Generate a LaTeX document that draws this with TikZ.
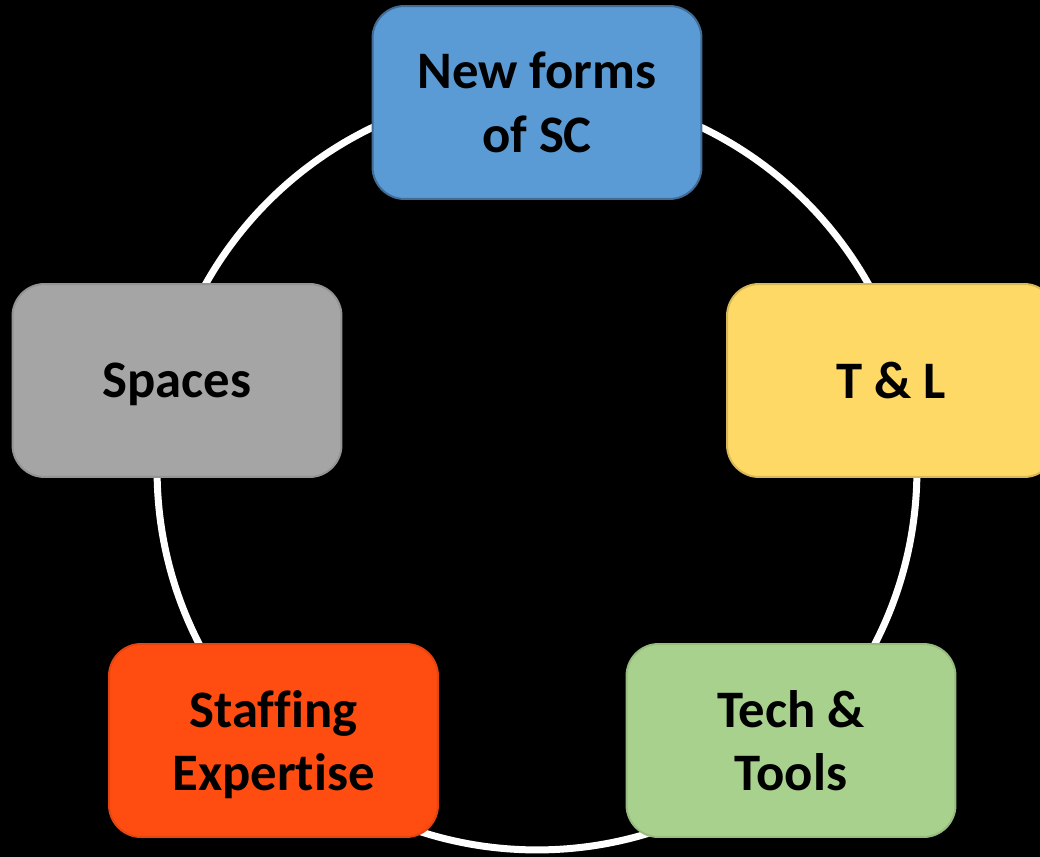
\documentclass[tikz,border=0pt]{standalone}
\usepackage{fontspec}
\setmainfont{Carlito}[Ligatures=NoCommon]
\usepackage{xcolor}
\usepackage{tikz}
\usetikzlibrary{positioning,shapes}

\definecolor{scblue}{HTML}{5B9BD5}
\definecolor{tlyellow}{HTML}{FFD966}
\definecolor{toolgreen}{HTML}{A9D18E}
\definecolor{staffred}{HTML}{FF4D12}
\definecolor{spacegray}{HTML}{A5A5A5}

\begin{document}
\begin{tikzpicture}[x=0.02cm, y=-0.02cm,
							box/.style = {rectangle, rounded corners=0.64cm, minimum width=6.58cm, minimum height=3.86cm,
								align=center, inner sep=0pt, text depth=0pt, line width=0.04cm,
								font=\fontsize{30}{36.4}\selectfont\bfseries}]
			\fill[black] (0, 0) rectangle (1040, 857);
			\clip (0, 0) rectangle (1040, 857);
			\coordinate (c) at (537, 470);
			\draw[white, line width=0.14cm] (c) circle (7.6cm);
			
			\node[box, fill=scblue, draw=scblue!70!black] (sc) at (537, 102.5) {New forms\\of SC};
			\node[box, fill=tlyellow, draw=tlyellow!85!black] (tl) at (891.5, 380.5) {T \& L};
			\node[box, fill=toolgreen, draw=toolgreen!90!black] (tech) at (791, 740.5) {Tech \&\\Tools};
			\node[box, fill=staffred, draw=staffred!90!black] (staff) at (273.5, 740.5) {Staffing\\Expertise};
			\node[box, fill=spacegray, draw=spacegray!90!black] (spaces) at (177, 380.5) {Spaces};
		\end{tikzpicture}
\end{document}
